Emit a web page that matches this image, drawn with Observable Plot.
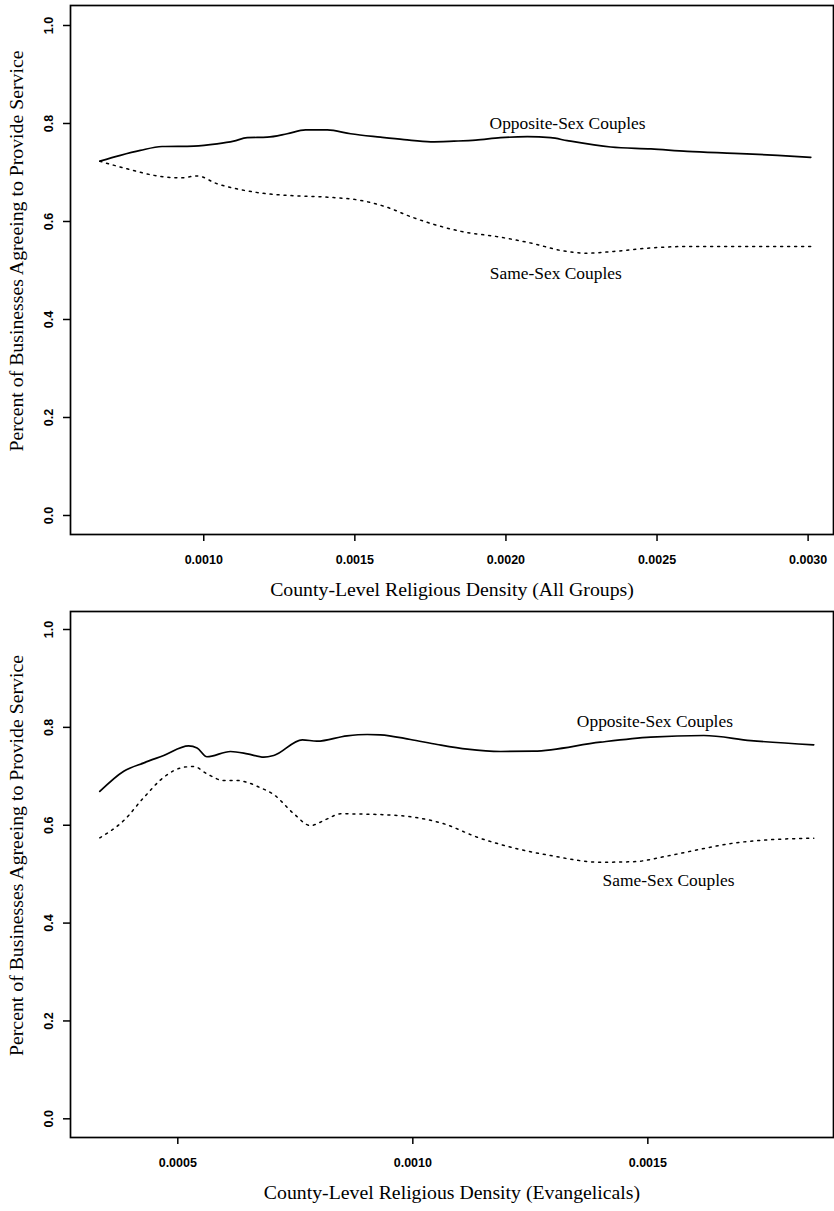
<!DOCTYPE html>
<html>
<head>
<meta charset="utf-8">
<script src="https://cdn.jsdelivr.net/npm/d3@7"></script>
<script src="https://cdn.jsdelivr.net/npm/@observablehq/plot@0.6"></script>
<style>
  html, body { margin: 0; padding: 0; background: #fff; }
  #chart svg { display: block; }
</style>
</head>
<body>
<div id="chart"></div>
<script>
// ---- Panel 1: All Groups ----
const allOppX = [0.000656, 0.000724, 0.000790, 0.000862, 0.000967, 0.001044, 0.001099, 0.001144, 0.001210, 0.001276, 0.001337, 0.001409, 0.001486, 0.001585, 0.001663, 0.001751, 0.001828, 0.001900, 0.001982, 0.002071, 0.002148, 0.002203, 0.002347, 0.002480, 0.002600, 0.002755, 0.002899, 0.003009];
const allOppY = [0.723, 0.735, 0.745, 0.753, 0.754, 0.7585, 0.764, 0.771, 0.772, 0.779, 0.787, 0.787, 0.779, 0.772, 0.767, 0.7626, 0.764, 0.766, 0.771, 0.773, 0.771, 0.765, 0.752, 0.748, 0.743, 0.739, 0.735, 0.731];
const allSameX = [0.000656, 0.000746, 0.000857, 0.000923, 0.000978, 0.001044, 0.001122, 0.001210, 0.001298, 0.001409, 0.001519, 0.001607, 0.001684, 0.001762, 0.001850, 0.001982, 0.002093, 0.002181, 0.002270, 0.002358, 0.002480, 0.002600, 0.003009];
const allSameY = [0.723, 0.7075, 0.692, 0.689, 0.693, 0.677, 0.665, 0.6565, 0.6525, 0.6496, 0.643, 0.629, 0.610, 0.594, 0.580, 0.568, 0.5545, 0.541, 0.5353, 0.539, 0.546, 0.549, 0.549];

// ---- Panel 2: Evangelicals ----
const evOppX = [0.000334, 0.000385, 0.000428, 0.000470, 0.000523, 0.000541, 0.000562, 0.000612, 0.000648, 0.000683, 0.000704, 0.000765, 0.000796, 0.000860, 0.000903, 0.000931, 0.000995, 0.001052, 0.001116, 0.001187, 0.001257, 0.001399, 0.001506, 0.001619, 0.001719, 0.001853];
const evOppY = [0.669, 0.7104, 0.7275, 0.7425, 0.762, 0.758, 0.740, 0.7507, 0.746, 0.739, 0.7425, 0.7746, 0.7717, 0.7827, 0.7854, 0.7848, 0.7752, 0.765, 0.7554, 0.7507, 0.7513, 0.7697, 0.780, 0.7834, 0.773, 0.7644];
const evSameX = [0.000334, 0.000385, 0.000428, 0.000470, 0.000513, 0.000534, 0.000562, 0.000598, 0.000626, 0.000676, 0.000704, 0.000747, 0.000782, 0.000818, 0.000846, 0.000924, 0.001002, 0.001066, 0.001137, 0.001187, 0.001293, 0.001399, 0.001470, 0.001541, 0.001612, 0.001683, 0.001754, 0.001853];
const evSameY = [0.5743, 0.6096, 0.657, 0.698, 0.7186, 0.720, 0.705, 0.6914, 0.6914, 0.6765, 0.6628, 0.6233, 0.5994, 0.613, 0.6233, 0.622, 0.6164, 0.603, 0.5755, 0.5606, 0.538, 0.5244, 0.5255, 0.537, 0.551, 0.5635, 0.570, 0.5735];

// ---- Labels and ticks ----
const seriesNames = ["Opposite-Sex Couples", "Same-Sex Couples"];
const allLabelX = [0.002204, 0.002165];
const allLabelY = [0.801, 0.4945];
const evLabelX = [0.001515, 0.001544];
const evLabelY = [0.8126, 0.487];
const yTicks = [0.0, 0.2, 0.4, 0.6, 0.8, 1.0];
const allXTicks = [0.0010, 0.0015, 0.0020, 0.0025, 0.0030];
const evXTicks = [0.0005, 0.0010, 0.0015];
const yTitle = "Percent of Businesses Agreeing to Provide Service";
const allXTitle = "County-Level Religious Density (All Groups)";
const evXTitle = "County-Level Religious Density (Evangelicals)";

const toPts = (xs, ys) => xs.map((x, i) => ({x, y: ys[i]}));
const serif = "'Liberation Serif', 'Times New Roman', serif";
const sans = "'Liberation Sans', Arial, sans-serif";

function panel({oppX, oppY, sameX, sameY, labX, labY, xTicks, xTitle, xDomain, yDomain, height, marginTop, marginBottom}) {
  const labels = seriesNames.map((name, i) => ({name, x: labX[i], y: labY[i]}));
  return Plot.plot({
    width: 834,
    height,
    marginLeft: 70,
    marginRight: 1,
    marginTop,
    marginBottom,
    style: {background: "#fff", color: "#000"},
    x: {domain: xDomain},
    y: {domain: yDomain},
    marks: [
      Plot.frame({stroke: "#000", strokeWidth: 1.7}),
      Plot.axisX({ticks: xTicks, tickSize: 7, tickPadding: 14, tickFormat: d3.format(".4f"),
        fontFamily: sans, fontWeight: "bold", fontSize: 12.5, label: null, strokeWidth: 1.5}),
      Plot.axisY({ticks: yTicks, tickSize: 7, tickFormat: () => "", label: null, strokeWidth: 1.5}),
      Plot.text(yTicks, {y: d => d, text: d3.format(".1f"), frameAnchor: "left", rotate: -90,
        textAnchor: "middle", dx: -22, fontFamily: sans, fontWeight: "bold", fontSize: 12.5, fill: "#000"}),
      Plot.text([yTitle], {text: d => d, frameAnchor: "left", rotate: -90, textAnchor: "middle",
        dx: -54, dy: -19, fontFamily: serif, fontSize: 19.8, fill: "#000"}),
      Plot.text([xTitle], {text: d => d, frameAnchor: "bottom", dy: 61,
        fontFamily: serif, fontSize: 19.8, fill: "#000"}),
      Plot.line(toPts(oppX, oppY), {x: "x", y: "y", stroke: "#000", strokeWidth: 1.7, curve: "monotone-x"}),
      Plot.line(toPts(sameX, sameY), {x: "x", y: "y", stroke: "#000", strokeWidth: 1.5,
        strokeDasharray: "2,5", curve: "monotone-x"}),
      Plot.text(labels, {x: "x", y: "y", text: "name", fontFamily: serif, fontSize: 17.4, fill: "#000"})
    ]
  });
}

const p1 = panel({
  oppX: allOppX, oppY: allOppY, sameX: allSameX, sameY: allSameY,
  labX: allLabelX, labY: allLabelY, xTicks: allXTicks, xTitle: allXTitle,
  xDomain: [0.000559, 0.003084], yDomain: [-0.0388, 1.0408],
  height: 606, marginTop: 5, marginBottom: 72
});
const p2 = panel({
  oppX: evOppX, oppY: evOppY, sameX: evSameX, sameY: evSameY,
  labX: evLabelX, labY: evLabelY, xTicks: evXTicks, xTitle: evXTitle,
  xDomain: [0.0002717, 0.001895], yDomain: [-0.0382, 1.0368],
  height: 605, marginTop: 5, marginBottom: 74
});
document.getElementById("chart").append(p1, p2);
</script>
</body>
</html>
